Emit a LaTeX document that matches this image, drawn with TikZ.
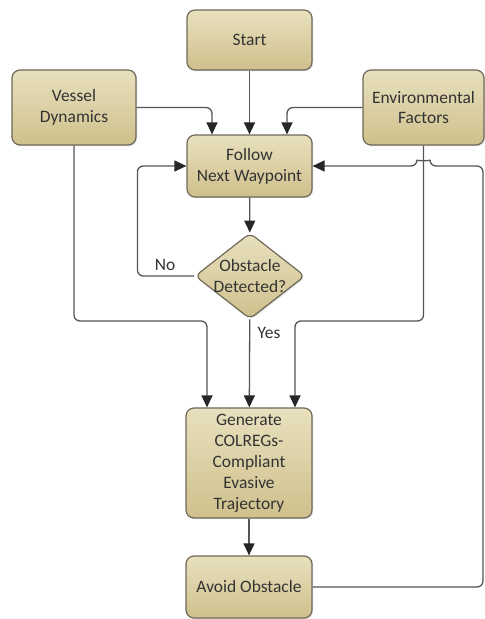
\documentclass[tikz,border=0pt]{standalone}
\usepackage{fontspec}
\setmainfont{Carlito}
\usetikzlibrary{arrows.meta,shapes.geometric,shadows}
\definecolor{boxtop}{HTML}{E8E0BE}
\definecolor{boxbot}{HTML}{CFC08C}
\definecolor{boxline}{HTML}{6E6958}
\definecolor{edgeline}{HTML}{555555}
\tikzset{
  box/.style={draw=boxline,line width=1.2bp,rounded corners=8bp,top color=boxtop,bottom color=boxbot,
    drop shadow={shadow xshift=1.2bp,shadow yshift=-1.2bp,opacity=0.25},
    align=center,inner sep=2bp,font=\fontsize{17.5}{21}\selectfont,text=black!80},
  choice/.style={box,diamond,rounded corners=6bp,aspect=1.28,inner sep=-4bp,minimum width=110bp,minimum height=86bp},
  edge/.style={draw=edgeline,line width=1.3bp,rounded corners=6bp,-{Triangle[width=11bp,length=12bp,color=black!85,sharp]}},
  lbl/.style={font=\fontsize{17.5}{21}\selectfont,text=black!80},
}
\begin{document}
\begin{tikzpicture}[line join=bevel]
\useasboundingbox (0bp,0bp) rectangle (485bp,619bp);
%%
\node (node_0) at (249.5bp,579bp) [box,minimum width=125bp,minimum height=60bp] {Start};
\node (node_1) at (74bp,511.5bp) [box,minimum width=124bp,minimum height=75bp] {Vessel\\Dynamics};
\node (node_2) at (423.5bp,511.5bp) [box,minimum width=121bp,minimum height=75bp] {Environmental\\Factors};
\node (node_3) at (249.5bp,453bp) [box,minimum width=125bp,minimum height=62bp] {Follow\\Next Waypoint};
\node (node_4) at (250bp,343bp) [choice] {Obstacle\\Detected?};
\node (node_5) at (249bp,156bp) [box,minimum width=126bp,minimum height=110bp] {Generate\\COLREGs-\\Compliant\\Evasive\\Trajectory};
\node (node_6) at (249bp,32bp) [box,minimum width=126bp,minimum height=62bp] {Avoid Obstacle};
%
\draw [edge] (node_0) -- (node_3);
\draw [edge] (node_1.east) -| ([xshift=-37.5bp]node_3.north);
\draw [edge] (node_2.west) -| ([xshift=37.5bp]node_3.north);
\draw [edge] (node_3) -- (node_4);
\draw [edge] (node_4.west) -- ++(-57bp,0) |- (node_3.west);
\node (node_no) at (165bp,354bp) [lbl] {No};
\draw [edge] (node_4) -- (node_5);
\node (node_yes) at (269bp,286bp) [lbl] {Yes};
\draw [edge] (node_1.south) |- (207bp,298bp) -- (207bp,0 |- node_5.north);
\draw [edge] (node_2.south) |- (295bp,298bp) -- (295bp,0 |- node_5.north);
\draw [edge] (node_5) -- (node_6);
\draw [edge] (node_6.east) -- (483bp,32bp) -- (483bp,453bp) -- (430bp,453bp) to[out=90,in=90] (417bp,453bp) -- (node_3.east);
%
\end{tikzpicture}
\end{document}
